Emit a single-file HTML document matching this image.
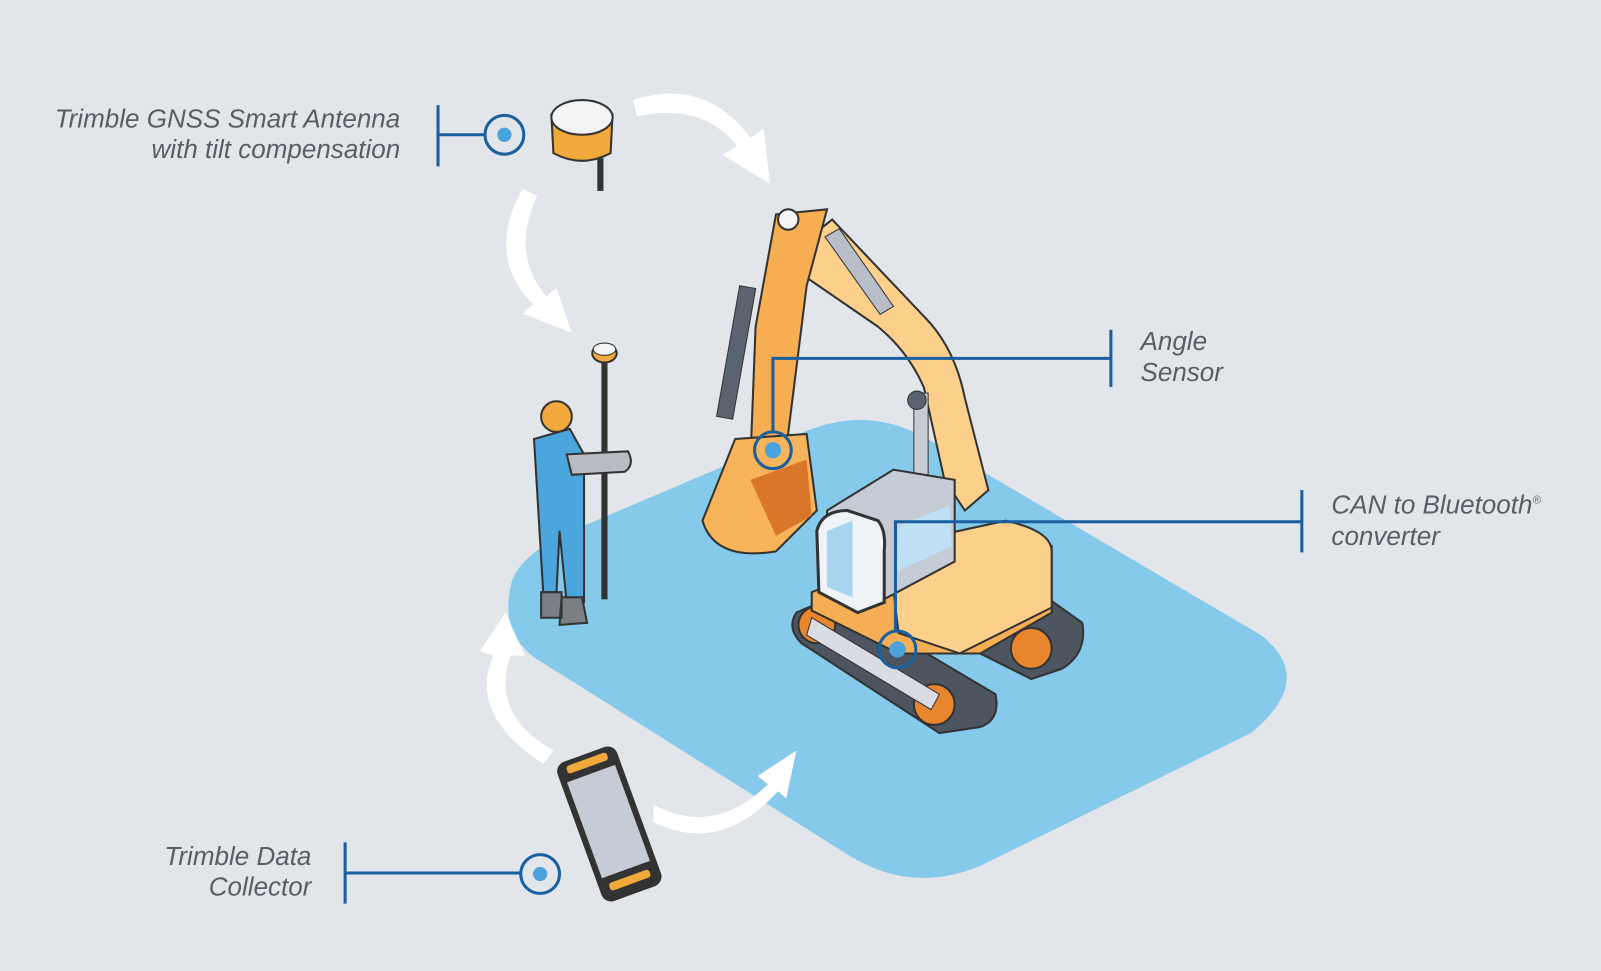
<!DOCTYPE html>
<html><head><style>
html,body{margin:0;padding:0;background:#e2e5ea;}
svg{display:block}
text{font-family:"Liberation Sans",sans-serif;font-style:italic;fill:#5a5d63;font-size:25.5px}
</style></head><body>
<svg width="1601" height="971" viewBox="0 0 1568 951" preserveAspectRatio="none">
<rect width="1568" height="951" fill="#e2e5ea"/>
<!-- ground -->
<path d="M500,575 Q505,545 560,520 L790,422 Q850,398 905,428 L1235,622 Q1290,665 1225,718 L960,848 Q895,875 835,840 L525,645 Q490,620 500,575 Z" fill="#85c9eb"/>
<!-- arrows -->
<g fill="#ffffff">
<path d="M620,98 Q690,75 735,135 L748,126 L754,180 L708,152 L722,143 Q688,100 624,114 Z"/>
<path d="M512,185 Q475,250 522,298 L512,307 L560,326 L545,282 L535,290 Q500,250 526,192 Z"/>
<path d="M532,748 Q458,700 483,642 L470,638 L495,600 L514,642 L500,642 Q480,700 542,735 Z"/>
<path d="M640,788 Q700,820 752,768 L742,760 L780,735 L770,782 L762,775 Q705,838 640,805 Z"/>
</g>
<!-- GNSS antenna top -->
<rect x="585" y="155" width="6" height="32" fill="#333"/>
<path d="M540,112 Q570,90 600,112 L598,150 Q570,165 542,150 Z" fill="#f2a93b" stroke="#333" stroke-width="2"/>
<ellipse cx="570" cy="115" rx="30" ry="17" fill="#f3f4f6" stroke="#333" stroke-width="2"/>
<!-- worker + pole -->
<rect x="589" y="355" width="6" height="232" fill="#333"/>
<ellipse cx="592" cy="346" rx="12" ry="9" fill="#f2a93b" stroke="#333" stroke-width="2"/>
<ellipse cx="592" cy="342" rx="11" ry="6" fill="#f3f4f6" stroke="#333"/>
<path d="M523,430 L558,420 L572,445 L572,590 L555,590 L548,520 L545,580 L532,580 Z" fill="#4aa6dc" stroke="#333" stroke-width="2"/>
<circle cx="545" cy="408" r="15" fill="#f2a93b" stroke="#333" stroke-width="2"/>
<path d="M555,445 L615,442 Q622,455 612,462 L560,465 Z" fill="#b8bcc2" stroke="#333" stroke-width="2"/>
<path d="M530,580 L550,580 L550,605 L530,605 Z M550,585 L570,585 L575,610 L548,612 Z" fill="#7a7e85" stroke="#333" stroke-width="2"/>
<!-- excavator tracks -->
<path d="M780,600 L815,585 L975,680 Q980,705 960,712 L920,718 L785,630 Q770,615 780,600 Z" fill="#4c5560" stroke="#333" stroke-width="2"/>
<path d="M960,600 L1025,585 L1060,610 Q1065,640 1040,655 L1010,665 L960,640 Z" fill="#4c5560" stroke="#333" stroke-width="2"/>
<circle cx="800" cy="612" r="18" fill="#e9862d" stroke="#333" stroke-width="2"/>
<circle cx="915" cy="690" r="20" fill="#e9862d" stroke="#333" stroke-width="2"/>
<circle cx="1010" cy="635" r="20" fill="#e9862d" stroke="#333" stroke-width="2"/>
<path d="M795,605 L920,680 L912,695 L790,622 Z" fill="#d9dde3" stroke="#333"/>
<!-- boom (behind) -->
<path d="M790,235 L815,215 L905,310 Q935,340 945,390 L968,480 L945,500 L925,470 L905,380 Q890,345 860,320 L780,265 Z" fill="#fcd08a" stroke="#333" stroke-width="2"/>
<path d="M808,232 L822,224 L875,300 L862,308 Z" fill="#b8bec8" stroke="#333"/>
<rect x="895" y="385" width="14" height="80" fill="#c8ccd2" stroke="#333"/>
<circle cx="898" cy="392" r="9" fill="#5b6370" stroke="#333"/>
<!-- stick -->
<path d="M760,210 L810,205 L790,280 L770,440 L735,450 L740,320 Z" fill="#f7ad52" stroke="#333" stroke-width="2"/>
<rect x="713" y="280" width="16" height="130" fill="#5b6370" transform="rotate(10 720 345)" stroke="#333"/>
<!-- bucket -->
<path d="M720,430 L790,425 L800,500 L760,540 Q700,550 688,510 Z" fill="#f7b45a" stroke="#333" stroke-width="2"/>
<path d="M735,470 L790,450 L795,505 L760,525 Z" fill="#d9762a"/>
<circle cx="772" cy="215" r="10" fill="#f3f4f6" stroke="#333" stroke-width="2"/>
<!-- body -->
<path d="M795,580 L870,550 L1030,535 L1030,600 L960,640 L880,640 L795,598 Z" fill="#f6ae55" stroke="#333" stroke-width="2"/>
<path d="M870,535 L985,510 Q1030,520 1030,540 L1030,595 L940,640 L880,620 Z" fill="#fcd08a" stroke="#333" stroke-width="2"/>
<!-- cab -->
<path d="M810,500 L875,460 L935,470 L935,550 L860,590 L810,570 Z" fill="#c5ccd5" stroke="#333" stroke-width="2"/>
<path d="M800,520 Q805,500 830,500 L860,510 Q868,520 866,540 L866,590 L840,600 L802,580 Z" fill="#eef3f8" stroke="#333" stroke-width="3"/>
<path d="M810,520 L835,510 L835,585 L810,575 Z" fill="#a8d4f0"/>
<path d="M880,515 L930,495 L932,535 L878,560 Z" fill="#bfe0f4"/>
<!-- callout lines -->
<g stroke="#1a5fa0" stroke-width="3" fill="none">
<line x1="429" y1="103" x2="429" y2="163"/><line x1="429" y1="132" x2="475" y2="132"/>
<circle cx="494" cy="132" r="19"/>
<line x1="338" y1="825" x2="338" y2="885"/><line x1="338" y1="855" x2="510" y2="855"/>
<circle cx="529" cy="856" r="19"/>
<polyline points="757,422 757,351 1088,351"/><line x1="1088" y1="323" x2="1088" y2="379"/>
<circle cx="757" cy="441" r="18"/>
<polyline points="877,618 877,511 1275,511"/><line x1="1275" y1="480" x2="1275" y2="541"/>
<circle cx="879" cy="636" r="18"/>
</g>
<g fill="#4aa3dc"><circle cx="494" cy="132" r="7"/><circle cx="529" cy="856" r="7"/><circle cx="757" cy="441" r="8"/><circle cx="879" cy="636" r="8"/></g>
<!-- data collector -->
<g transform="rotate(-20 595 805)">
<rect x="565" y="735" width="62" height="145" rx="10" fill="#333"/>
<rect x="571" y="755" width="50" height="100" fill="#c5ccd5"/>
<rect x="575" y="740" width="42" height="8" rx="3" fill="#f2a93b"/>
<rect x="575" y="862" width="42" height="8" rx="3" fill="#f2a93b"/>
</g>
<!-- labels -->
<text x="392" y="125" text-anchor="end">Trimble GNSS Smart Antenna</text>
<text x="392" y="155" text-anchor="end">with tilt compensation</text>
<text x="305" y="847" text-anchor="end">Trimble Data</text>
<text x="305" y="877" text-anchor="end">Collector</text>
<text x="1117" y="343">Angle</text>
<text x="1117" y="373">Sensor</text>
<text x="1304" y="503">CAN to Bluetooth<tspan font-size="11" dy="-10">®</tspan></text>
<text x="1304" y="534">converter</text>
</svg>
</body></html>
